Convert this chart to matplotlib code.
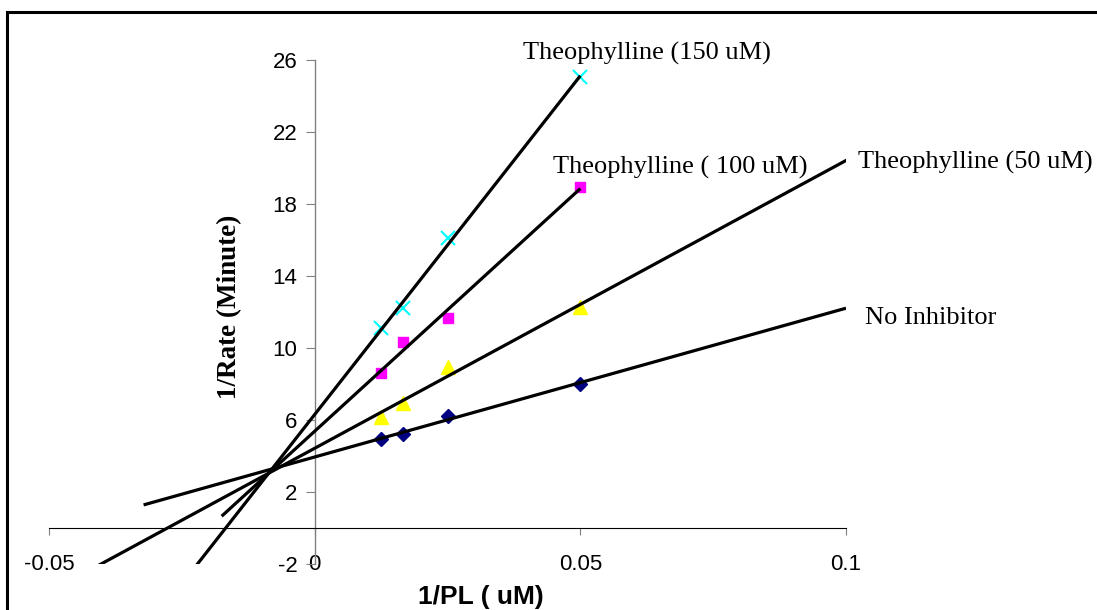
import numpy as np
import matplotlib
matplotlib.use('Agg')
import matplotlib.pyplot as plt
from matplotlib.patches import Rectangle

# 1/[PL] (uM^-1) and 1/rate (min)
inv_pl = [0.0125, 0.01667, 0.025, 0.05]
no_inhibitor = [4.93, 5.22, 6.22, 8.02]
theo_50 = [6.19, 6.96, 8.96, 12.26]
theo_100 = [8.63, 10.35, 11.65, 18.96]
theo_150 = [11.09, 12.2, 16.1, 25.04]

series_names = ['No Inhibitor', 'Theophylline (50 uM)', 'Theophylline ( 100 uM)', 'Theophylline (150 uM)']

W, H = 1097, 610
SANS = 'Liberation Sans'
SERIF = 'Liberation Serif'
plt.rcParams['axes.unicode_minus'] = False


def px(x, y):
    return x / W, 1 - y / H


fig = plt.figure(figsize=(W / 100, H / 100), dpi=100)
l, b = 49 / W, (H - 564) / H
ax = fig.add_axes([l, b, (846 - 49) / W, (564 - 60) / H])

# marker style, trendline span (backward / forward end) for each series
styles = [
    (no_inhibitor, dict(marker='D', color='#000080', ms=7), (-0.0322, 0.1)),
    (theo_50, dict(marker='^', color='#FFFF00', ms=10), (-0.05, 0.1005)),
    (theo_100, dict(marker='s', color='#FF00FF', ms=7.5), (-0.0175, 0.05)),
    (theo_150, dict(marker='x', color='#00FFFF', ms=10, mew=1.5), (-0.05, 0.05)),
]

x = np.array(inv_pl)
for ys, mk, (x0, x1) in styles:
    ax.plot(x, ys, ls='none', zorder=2, **mk)
    k, c = np.polyfit(x, ys, 1)
    xx = np.array([x0, x1])
    ax.plot(xx, k * xx + c, color='black', lw=2.3, zorder=3, solid_capstyle='butt')

ax.set_xlim(-0.05, 0.1)
ax.set_ylim(-2, 26)
ax.set_xticks([-0.05, 0, 0.05, 0.1])
ax.set_xticklabels(['-0.05', '0', '0.05', '0.1'])
ax.set_yticks([-2, 2, 6, 10, 14, 18, 22, 26])

for s in ['top', 'right']:
    ax.spines[s].set_visible(False)
ax.spines['left'].set_position(('data', 0))
ax.spines['bottom'].set_position(('data', 0))
ax.spines['left'].set_color('#808080')
ax.spines['left'].set_linewidth(1.0)
ax.spines['bottom'].set_linewidth(0.8)
ax.patch.set_visible(False)

ax.tick_params(axis='x', direction='out', length=5, width=0.8, pad=13.5,
               labelsize=16, color='#808080')
ax.tick_params(axis='y', direction='out', length=6.5, width=0.8, pad=6,
               labelsize=16, color='#808080')
for t in ax.get_xticklabels() + ax.get_yticklabels():
    t.set_fontfamily(SANS)

fig.text(*px(481, 597), '1/PL ( uM)', fontsize=19, fontweight='bold',
         family=SANS, ha='center', va='center')
fig.text(*px(230, 307), '1/Rate (Minute)', fontsize=19.5, fontweight='bold',
         family=SERIF, ha='center', va='center', rotation=90)

label_pos = [(865, 318), (858, 162), (553, 167), (523, 53)]
for name, (lx, ly) in zip(series_names, label_pos):
    fig.text(*px(lx, ly), name, fontsize=19, family=SERIF, ha='left', va='center')

# outer chart frame (runs off the right and bottom edges)
fig.patches.append(Rectangle(px(6.5, 700), 1.2, (700 - 12) / H, transform=fig.transFigure,
                             fill=False, edgecolor='black', lw=2.2, figure=fig))

plt.savefig('out.png', dpi=100)
plt.close()
